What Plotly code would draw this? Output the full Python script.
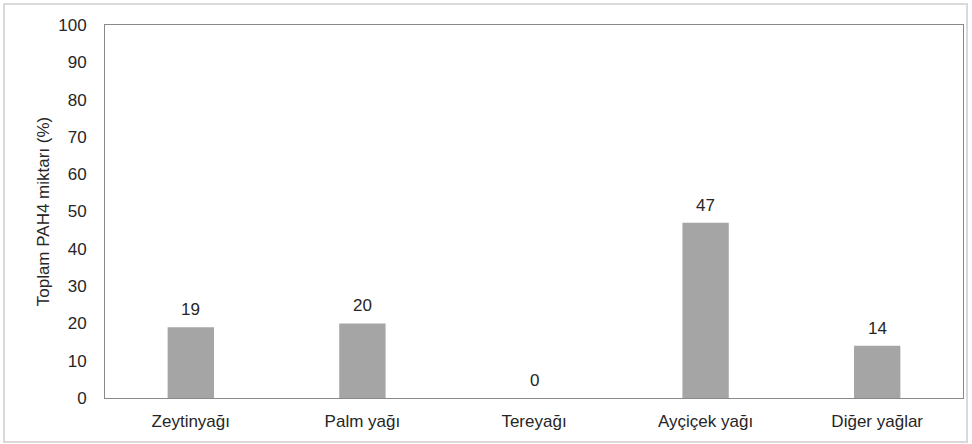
import plotly.graph_objects as go

categories = ["Zeytinyağı", "Palm yağı", "Tereyağı", "Ayçiçek yağı", "Diğer yağlar"]
values = [19, 20, 0, 47, 14]
y_ticks = list(range(0, 101, 10))

W, H = 972, 444
L, R, T, B = 105, 9, 25, 46
pw, ph = W - L - R, H - T - B

def px_x(x):
    return (x - L) / pw

def px_y(y):
    return (H - B - y) / ph

fig = go.Figure(go.Bar(
    x=categories, y=values,
    marker=dict(color="#a5a5a5", line=dict(width=0)),
    width=0.27,
    hoverinfo="x+y",
))

for c, v in zip(categories, values):
    fig.add_annotation(x=c, y=v, text=str(v), showarrow=False, yanchor="bottom",
                       yshift=6, font=dict(size=17, color="#262626"))

fig.update_layout(
    width=W, height=H,
    margin=dict(l=L, r=R, t=T, b=B),
    paper_bgcolor="white", plot_bgcolor="white",
    font=dict(family="Liberation Sans", color="#262626"),
    showlegend=False,
    xaxis=dict(showline=True, linecolor="#898989", linewidth=1, mirror=True,
               ticks="", tickfont=dict(size=17), showgrid=False, ticklabelstandoff=8),
    yaxis=dict(range=[0, 100], tickvals=y_ticks, showline=True, linecolor="#898989",
               linewidth=1, mirror=True, ticks="", showgrid=False, zeroline=False,
               tickfont=dict(size=17), ticklabelstandoff=14,
               title=dict(text="Toplam PAH4 miktarı (%)", font=dict(size=17), standoff=4)),
    shapes=[dict(type="rect", xref="paper", yref="paper",
                 x0=px_x(4), x1=px_x(967), y0=px_y(442), y1=px_y(4),
                 line=dict(color="#d9d9d9", width=2), layer="below")],
)

fig.write_html("out.html", config={"displayModeBar": False},
               post_script="document.body.style.margin='0';document.body.style.overflow='hidden';")
